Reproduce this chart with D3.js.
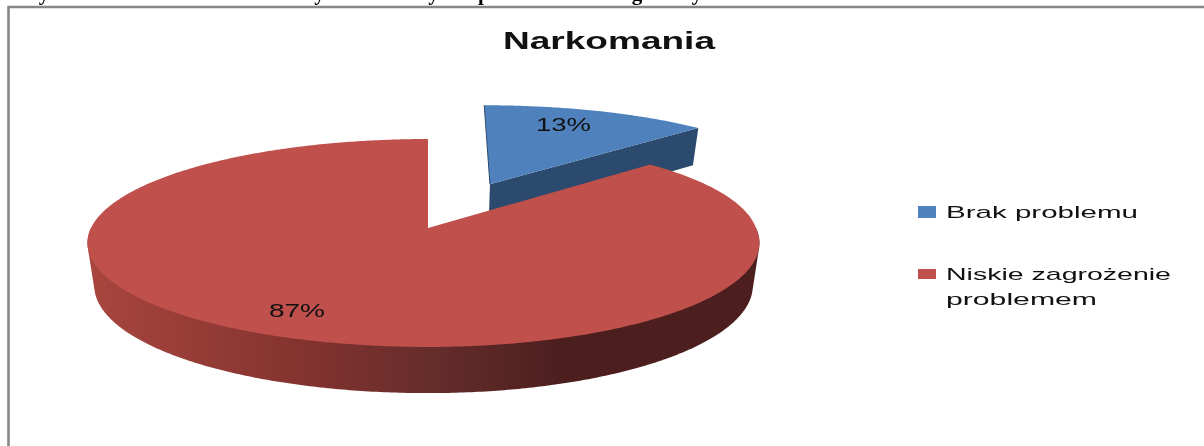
<!DOCTYPE html>
<html>
<head>
<meta charset="utf-8">
<script src="https://d3js.org/d3.v7.min.js"></script>
<style>
  html, body { margin: 0; padding: 0; background: #fff; overflow: hidden; }
  text { fill: #111; filter: blur(0.35px); }
</style>
</head>
<body>
<svg id="chart" width="1204" height="446"></svg>
<script>
const categories = ["Brak problemu", "Niskie zagrożenie problemem"];
const values = [13, 87];
const valueLabels = ["13%", "87%"];
const legendLines = [["Brak problemu"], ["Niskie zagrożenie", "problemem"]];
const chartTitle = "Narkomania";
const clippedWords = ["ny", "Nasi.", "Ocena", "decy", "Nowaty", "przesło", "wag", "ny", "Narkomania"];

const svg = d3.select("#chart");
const topColors = ["#4f81bd", "#bf504c"];

// pie lies flat and is seen in perspective, apex at (cx, cy)
const cx = 428, cy = 228, radiusLeft = 337, radiusRight = 328, radiusY = 101.8;
const persp = 0.144, depth = 42, bottomShrink = 0.98, explode = 0.5;

function project(px, py, z) {
  const f = 1 / (1 + persp * py);
  // far side of the original is pulled a little to the right
  const r = px < 0 ? radiusLeft : radiusRight + 10 * Math.max(py, 0);
  const k = z ? bottomShrink : 1;
  return [
    cx + r * px * f * k,
    cy - radiusY * py * f + (z ? depth * (1 - 0.1 * py) : 0)
  ];
}

const slices = d3.pie().sort(null)(values);
const line = d3.line();

function rimPoint(angle, offset, z) {
  return project(offset[0] + Math.sin(angle), offset[1] + Math.cos(angle), z);
}
function anglesBetween(a, b) {
  const n = Math.ceil((b - a) / 0.01);
  return d3.range(n + 1).map(i => a + (b - a) * i / n);
}

const sliceOffset = slices.map((s, i) => {
  if (i !== 0) return [0, 0];
  const mid = (s.startAngle + s.endAngle) / 2;
  return [explode * Math.sin(mid), explode * Math.cos(mid)];
});

// wall shading, dark to the right like the reference
const wallStops = [90, 300, 430, 560, 760];
const wallColor = d3.scaleLinear()
  .domain(wallStops)
  .range(["#a8453f", "#84332f", "#662d2b", "#4c1f1e", "#4c1f1e"]);

svg.append("defs").append("linearGradient")
  .attr("id", "wallFill")
  .attr("gradientUnits", "userSpaceOnUse")
  .attr("x1", wallStops[0])
  .attr("x2", wallStops[wallStops.length - 1])
  .attr("y1", 0)
  .attr("y2", 0)
  .selectAll("stop")
  .data(wallStops)
  .enter().append("stop")
  .attr("offset", d => (d - wallStops[0]) / (wallStops[wallStops.length - 1] - wallStops[0]))
  .attr("stop-color", d => wallColor(d));

// blue slice: dark cut face towards the viewer
const blue = slices[0], blueOff = sliceOffset[0];
svg.append("path")
  .attr("d", line([
    project(blueOff[0], blueOff[1], false),
    rimPoint(blue.endAngle, blueOff, false),
    rimPoint(blue.endAngle, blueOff, true),
    project(blueOff[0], blueOff[1], true)
  ]) + "Z")
  .attr("fill", "#2c4a6e");

svg.append("path")
  .attr("d", line([project(blueOff[0], blueOff[1], false)]
    .concat(anglesBetween(blue.startAngle, blue.endAngle).map(a => rimPoint(a, blueOff, false)))) + "Z")
  .attr("fill", topColors[0]);

svg.append("path")
  .attr("d", line([project(blueOff[0], blueOff[1], false), rimPoint(blue.startAngle, blueOff, false)]))
  .attr("stroke", "#2c4a6e")
  .attr("stroke-width", 1)
  .attr("fill", "none");

// red slice: wall as hull of both rims so the sides have no notch, then the top
const wallAngles = anglesBetween(Math.PI * 0.5, Math.PI * 1.5);
const wallHull = d3.polygonHull(wallAngles.map(a => rimPoint(a, [0, 0], false))
  .concat(wallAngles.map(a => rimPoint(a, [0, 0], true))));
svg.append("path")
  .attr("d", line(wallHull) + "Z")
  .attr("fill", "url(#wallFill)");

const red = slices[1];
svg.append("path")
  .attr("d", line([project(0, 0, false)]
    .concat(anglesBetween(red.startAngle, red.endAngle).map(a => rimPoint(a, [0, 0], false)))) + "Z")
  .attr("fill", topColors[1]);

// frame of the embedded chart, cut off at the page edge
svg.append("path")
  .attr("d", "M8.5,446V7H1204")
  .attr("fill", "none")
  .attr("stroke", "#868686")
  .attr("stroke-width", 2.6);

// wide stretched text like the scaled original
function wideText(str, x, y, size, width, weight) {
  return svg.append("text")
    .attr("x", x)
    .attr("y", y)
    .attr("textLength", width)
    .attr("lengthAdjust", "spacingAndGlyphs")
    .style("font-family", "'Liberation Sans', Arial, sans-serif")
    .style("font-size", size + "px")
    .style("font-weight", weight || "normal")
    .text(str);
}

wideText(chartTitle, 503, 49, 24, 212, "bold");
wideText(valueLabels[0], 536, 131, 19, 55);
wideText(valueLabels[1], 269, 317, 19, 56);

// legend
const legendX = 946, swatchX = 918;
const legendRows = [
  { y: 206, h: 12, lines: [218], widths: [192] },
  { y: 269, h: 10, lines: [280, 305], widths: [225, 151] }
];
categories.forEach((c, i) => {
  svg.append("rect")
    .attr("x", swatchX)
    .attr("y", legendRows[i].y)
    .attr("width", 18)
    .attr("height", legendRows[i].h)
    .attr("fill", topColors[i]);
  legendLines[i].forEach((t, j) => {
    wideText(t, legendX, legendRows[i].lines[j], 17, legendRows[i].widths[j]);
  });
});

// line of body text above the chart, only its lower edge is on the page
const wordX = [27, 75, 130, 284, 370, 478, 606, 680, 725];
clippedWords.forEach((w, i) => {
  svg.append("text")
    .attr("x", wordX[i])
    .attr("y", 0)
    .style("font-family", "'Liberation Serif', serif")
    .style("font-weight", "bold")
    .style("font-size", "21px")
    .style("fill", "#000")
    .text(w);
});
</script>
</body>
</html>
